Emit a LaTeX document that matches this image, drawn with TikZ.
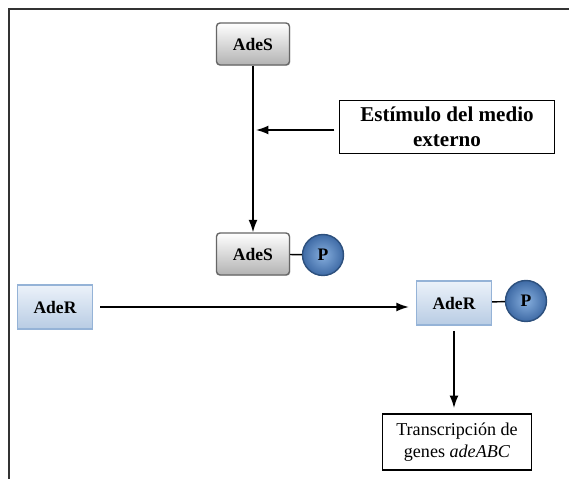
\documentclass[tikz,border=0pt]{standalone}
\usepackage{fontspec}
\setmainfont{Liberation Serif}
\usetikzlibrary{shadows, arrows.meta}
\definecolor{phosinner}{RGB}{135,175,222}
\definecolor{phosouter}{RGB}{62,106,165}
\definecolor{phosedge}{RGB}{45,80,125}
\definecolor{regedge}{RGB}{149,179,215}
\definecolor{regtop}{RGB}{236,242,250}
\definecolor{regbottom}{RGB}{184,204,228}

\begin{document}
\begin{tikzpicture}[x=0.02cm, y=-0.02cm,
        sensor/.style={rectangle, rounded corners=2pt, draw=gray!80!black, thick,
            top color=white, bottom color=gray!60, minimum width=1.46cm,
            minimum height=0.84cm, font=\fontsize{10}{12}\selectfont\bfseries,
            drop shadow={opacity=0.25, shadow xshift=0.5pt, shadow yshift=-0.5pt}},
        regulator/.style={rectangle, draw=regedge, thick,
            top color=regtop, bottom color=regbottom, minimum width=1.5cm,
            minimum height=0.88cm, font=\fontsize{10}{12}\selectfont\bfseries,
            drop shadow={opacity=0.25, shadow xshift=0.5pt, shadow yshift=-0.5pt}},
        phospho/.style={circle, draw=phosedge, thick, inner color=phosinner,
            outer color=phosouter, minimum size=0.82cm, inner sep=0pt,
            font=\fontsize{10}{12}\selectfont\bfseries},
        textbox/.style={rectangle, draw, thick, align=center},
        arrow/.style={-{Latex[length=7pt, width=5pt]}, thick}]
        \useasboundingbox (0,0) rectangle (569,479);

        % Frame
        \draw[line width=1.2pt, black!80] (9,479) -- (9,9) -- (569,9);

        % Nodes
        \node[sensor] at (253, 44)  (adesA) {AdeS};
        \node[sensor] at (253, 254) (adesB) {AdeS};
        \node[phospho] at (323, 255) (pS) {P};
        \node[textbox, minimum width=4.3cm, minimum height=1.06cm,
            font=\fontsize{12}{14}\selectfont\bfseries] at (447, 127) (stim) {Estímulo del medio\\externo};
        \node[regulator] at (55, 307)  (aderA) {AdeR};
        \node[regulator] at (454, 303) (aderB) {AdeR};
        \node[phospho] at (526, 301) (pR) {P};
        \node[textbox, minimum width=2.98cm, minimum height=1.12cm,
            font=\fontsize{10.3}{12.5}\selectfont] at (457, 442) (trans) {Transcripción de\\genes \textit{adeABC}};

        \coordinate (join) at (256, 130);

        \draw[arrow] (adesA) -- (adesB);
        \draw[arrow, shorten <=2.5pt] (stim.west |- join) -- (join);
        \draw[thick] (adesB) -- (pS);
        \draw[arrow, shorten <=4pt, shorten >=4pt] (aderA) -- (aderB.west |- aderA);
        \draw[thick] (aderB) -- (pR);
        \draw[arrow, shorten <=3pt, shorten >=3pt] (aderB.south) -- (aderB.south |- trans.north);
    \end{tikzpicture}
\end{document}
